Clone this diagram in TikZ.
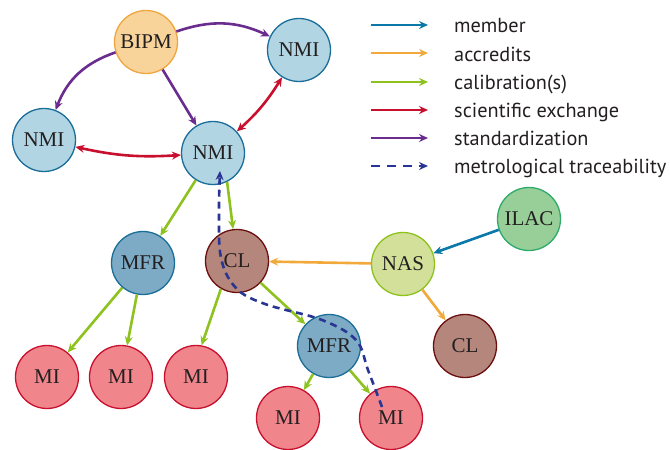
\documentclass[tikz,border=0pt]{standalone}
\usepackage{fontspec}
\setmainfont{Liberation Serif}
\newfontfamily\legfont{PT Sans}
\usetikzlibrary{arrows.meta}
\definecolor{txt}{HTML}{231F20}
\definecolor{cmember}{HTML}{0A78A8}
\definecolor{caccr}{HTML}{F2A93B}
\definecolor{ccal}{HTML}{8DC21F}
\definecolor{csci}{HTML}{C8102E}
\definecolor{cstd}{HTML}{6A2C8E}
\definecolor{ctrace}{HTML}{283593}
\definecolor{bipmfill}{HTML}{F8D49A}
\definecolor{bipmdraw}{HTML}{F0A640}
\definecolor{nmifill}{HTML}{B2D5E3}
\definecolor{bluedraw}{HTML}{1A6E99}
\definecolor{mfrfill}{HTML}{7DAAC4}
\definecolor{clfill}{HTML}{B5877C}
\definecolor{cldraw}{HTML}{6B0F0F}
\definecolor{mifill}{HTML}{F0868C}
\definecolor{midraw}{HTML}{C8102E}
\definecolor{nasfill}{HTML}{D2E09A}
\definecolor{nasdraw}{HTML}{8DC21F}
\definecolor{ilacfill}{HTML}{98CE98}
\definecolor{ilacdraw}{HTML}{2EAA6A}
\begin{document}
\begin{tikzpicture}[x=1pt,y=1pt,
  circ/.style={circle, minimum size=63pt, inner sep=0pt, line width=1.3pt,
    font=\fontsize{21}{24}\selectfont, text=txt},
  bipmst/.style={circ, fill=bipmfill, draw=bipmdraw},
  nmist/.style={circ, fill=nmifill, draw=bluedraw},
  mfrst/.style={circ, fill=mfrfill, draw=bluedraw},
  clst/.style={circ, fill=clfill, draw=cldraw},
  mist/.style={circ, fill=mifill, draw=midraw},
  nasst/.style={circ, fill=nasfill, draw=nasdraw},
  ilacst/.style={circ, fill=ilacfill, draw=ilacdraw},
  tip/.style={-{Stealth[length=9pt,width=8pt,inset=3pt]}},
  dtip/.style={{Stealth[length=9pt,width=8pt,inset=3pt]}-{Stealth[length=9pt,width=8pt,inset=3pt]}},
  base/.style={line width=2.6pt},
  member/.style={base, tip, cmember},
  accr/.style={base, tip, caccr},
  cal/.style={base, tip, ccal},
  sci/.style={base, dtip, csci},
  scileg/.style={base, tip, csci},
  stdz/.style={base, tip, cstd},
  trace/.style={base, tip, ctrace, dash pattern=on 7pt off 5pt},
  legtext/.style={anchor=base west, inner sep=0pt, font=\legfont\fontsize{20.3}{24}\selectfont, text=txt}
]
\useasboundingbox (0,0) rectangle (670,450);

% nodes
\node[bipmst] (bipm) at (146,408) {BIPM};
\node[nmist] (nmitr) at (299,400) {NMI};
\node[nmist] (nmil) at (44,310) {NMI};
\node[nmist] (nmic) at (213,297) {NMI};
\node[mfrst] (mfr1) at (143,187) {MFR};
\node[clst] (cl1) at (237,189) {CL};
\node[mist] (mi1) at (47,73) {MI};
\node[mist] (mi2) at (121,73) {MI};
\node[mist] (mi3) at (196,73) {MI};
\node[mfrst] (mfr2) at (329,104) {MFR};
\node[mist] (mi4) at (288,32) {MI};
\node[mist] (mi5) at (391,32) {MI};
\node[nasst] (nas) at (403,186) {NAS};
\node[ilacst] (ilac) at (529,231) {ILAC};
\node[clst] (cl2) at (465,104) {CL};

% standardization
\draw[stdz] (bipm) to[bend left=22] (nmitr);
\draw[stdz] (bipm) to[bend right=25] (nmil);
\draw[stdz] (bipm) -- (nmic);
% scientific exchange
\draw[sci] (nmic) to[bend right=8] (nmitr);
\draw[sci] (nmil) to[bend right=8] (nmic);
% calibrations
\draw[cal] (nmic) -- (mfr1);
\draw[cal] (nmic.-64) -- (cl1.97);
\draw[cal] (mfr1) -- (mi1);
\draw[cal] (mfr1) -- (mi2);
\draw[cal] (cl1.-120) -- (mi3.80);
\draw[cal] (cl1) -- (mfr2);
\draw[cal] (mfr2) -- (mi4);
\draw[cal] (mfr2) -- (mi5);
% accredits, member
\draw[accr] (nas) -- (cl1);
\draw[accr] (nas) -- (cl2);
\draw[member] (ilac) -- (nas);
% traceability
\coordinate (tr0) at (382,43);
\coordinate (tr1) at (220,279);
\draw[trace] plot[smooth, tension=0.6] coordinates {(tr0) (368,80) (356,110) (322,130) (265,146) (236,162) (221,192) (219,240) (tr1)};

% legend
\coordinate (l1a) at (371,425); \coordinate (l1b) at (428,425);
\coordinate (l2a) at (371,397); \coordinate (l2b) at (428,397);
\coordinate (l3a) at (371,368); \coordinate (l3b) at (428,368);
\coordinate (l4a) at (371,340); \coordinate (l4b) at (428,340);
\coordinate (l5a) at (371,312); \coordinate (l5b) at (428,312);
\coordinate (l6a) at (371,284); \coordinate (l6b) at (428,284);
\draw[member] (l1a) -- (l1b);
\draw[accr] (l2a) -- (l2b);
\draw[cal] (l3a) -- (l3b);
\draw[scileg] (l4a) -- (l4b);
\draw[stdz] (l5a) -- (l5b);
\draw[trace, dash pattern=on 9pt off 7pt] (l6a) -- (l6b);
\node[legtext] (t1) at (454,417) {member};
\node[legtext] (t2) at (454,388) {accredits};
\node[legtext] (t3) at (454,360) {calibration(s)};
\node[legtext] (t4) at (454,332) {scientific exchange};
\node[legtext] (t5) at (454,304) {standardization};
\node[legtext] (t6) at (454,276) {metrological traceability};
\end{tikzpicture}
\end{document}
